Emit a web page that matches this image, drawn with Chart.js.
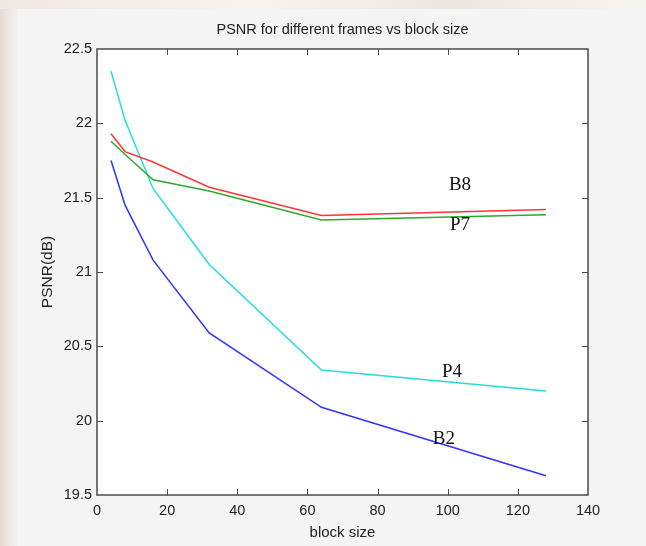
<!DOCTYPE html>
<html>
<head>
<meta charset="utf-8">
<script src="https://cdn.jsdelivr.net/npm/chart.js@4/dist/chart.umd.min.js"></script>
<style>
  html, body { margin: 0; padding: 0; }
  body {
    width: 646px; height: 546px; overflow: hidden; position: relative;
    background: linear-gradient(90deg, #e6dbd5 0px, #efe8e3 10px, #f3efeb 17px);
  }
  #panel { position: absolute; left: 17px; top: 9px; right: 0; bottom: 0; background: #f4f4f4; }
  #topstrip { position: absolute; left: 0; top: 0; width: 646px; height: 9px;
    background: linear-gradient(90deg, #efe7e2, #f6f3ef 40%, #ebe6e0 70%, #f7f5f1); }
  canvas { position: absolute; left: 0; top: 0; }
</style>
</head>
<body>
<div id="topstrip"></div>
<div id="panel"></div>
<canvas id="psnrChart" width="646" height="546"></canvas>
<script>
const blockSizes = [4, 8, 16, 32, 64, 128];

const psnrB8 = [21.93, 21.81, 21.74, 21.57, 21.38, 21.42];
const psnrP7 = [21.88, 21.79, 21.62, 21.545, 21.35, 21.385];
const psnrP4 = [22.35, 22.02, 21.56, 21.05, 20.34, 20.20];
const psnrB2 = [21.75, 21.45, 21.08, 20.59, 20.09, 19.63];

// curve names written next to the lines (data coordinates)
const curveNames = ['B8', 'P7', 'P4', 'B2'];
const nameX = [103.5, 103.5, 101.2, 98.9];
const nameY = [21.585, 21.313, 20.328, 19.877];

const sans = "'Liberation Sans', Arial, sans-serif";

const toPoints = values => values.map((v, i) => ({ x: blockSizes[i], y: v }));

const matlabAxes = {
    id: 'matlabAxes',
    beforeDraw(chart) {
        const { ctx, chartArea: a } = chart;
        ctx.save();
        ctx.fillStyle = '#ffffff';
        ctx.fillRect(a.left, a.top, a.right - a.left, a.bottom - a.top);
        ctx.restore();
    },
    afterDatasetsDraw(chart) {
        const { ctx, chartArea: a, scales } = chart;
        const tickLen = 6;
        ctx.save();
        ctx.strokeStyle = '#4a4a4a';
        ctx.lineWidth = 1;
        ctx.beginPath();
        scales.x.ticks.forEach(t => {
            const px = Math.round(scales.x.getPixelForValue(t.value)) + 0.5;
            if (px <= a.left + 1 || px >= a.right - 1) return;
            ctx.moveTo(px, a.bottom); ctx.lineTo(px, a.bottom - tickLen);
            ctx.moveTo(px, a.top); ctx.lineTo(px, a.top + tickLen);
        });
        scales.y.ticks.forEach(t => {
            const py = Math.round(scales.y.getPixelForValue(t.value)) + 0.5;
            if (py <= a.top + 1 || py >= a.bottom - 1) return;
            ctx.moveTo(a.left, py); ctx.lineTo(a.left + tickLen, py);
            ctx.moveTo(a.right, py); ctx.lineTo(a.right - tickLen, py);
        });
        ctx.stroke();
        ctx.lineWidth = 1.5;
        ctx.strokeRect(a.left, a.top, a.right - a.left, a.bottom - a.top);

        ctx.fillStyle = '#111111';
        ctx.font = "19px 'Liberation Serif', 'Times New Roman', serif";
        ctx.textAlign = 'center';
        ctx.textBaseline = 'middle';
        curveNames.forEach((name, i) => {
            ctx.fillText(name, scales.x.getPixelForValue(nameX[i]), scales.y.getPixelForValue(nameY[i]));
        });
        ctx.restore();
    }
};

const ctx = document.getElementById('psnrChart').getContext('2d');
const psnrChart = new Chart(ctx, {
    type: 'line',
    data: {
        datasets: [
            { label: 'B8', data: toPoints(psnrB8), borderColor: '#ff3535' },
            { label: 'P7', data: toPoints(psnrP7), borderColor: '#2ea82e' },
            { label: 'P4', data: toPoints(psnrP4), borderColor: '#22dede' },
            { label: 'B2', data: toPoints(psnrB2), borderColor: '#3333ff' }
        ]
    },
    options: {
        responsive: false,
        animation: false,
        devicePixelRatio: 1,
        layout: { padding: { left: 0, right: 58, top: 0, bottom: 0 } },
        elements: {
            point: { radius: 0 },
            line: { borderWidth: 1.5, tension: 0, fill: false }
        },
        scales: {
            x: {
                type: 'linear',
                min: 0,
                max: 140,
                grid: { display: false, drawTicks: false },
                border: { display: false },
                ticks: {
                    stepSize: 20,
                    padding: 7,
                    color: '#222222',
                    font: { family: sans, size: 14.5 }
                },
                title: {
                    display: true,
                    text: 'block size',
                    color: '#222222',
                    font: { family: sans, size: 15 },
                    padding: { top: 0, bottom: 4 }
                },
                afterFit(scale) { scale.height = 51; }
            },
            // top axis only carries the plot title, centred over the axes box
            xTop: {
                type: 'linear',
                position: 'top',
                min: 0,
                max: 140,
                grid: { display: false, drawTicks: false },
                border: { display: false },
                ticks: { display: false },
                title: {
                    display: true,
                    text: 'PSNR for different frames vs block size',
                    color: '#222222',
                    font: { family: sans, size: 14.5 },
                    padding: { top: 21, bottom: 0 }
                },
                afterFit(scale) { scale.height = 49; }
            },
            y: {
                min: 19.5,
                max: 22.5,
                grid: { display: false, drawTicks: false },
                border: { display: false },
                ticks: {
                    stepSize: 0.5,
                    padding: 5,
                    color: '#222222',
                    font: { family: sans, size: 14.5 },
                    callback: value => String(value)
                },
                title: {
                    display: true,
                    text: 'PSNR(dB)',
                    color: '#222222',
                    font: { family: sans, size: 15.5 },
                    padding: { top: 38, bottom: 0 }
                },
                afterFit(scale) { scale.width = 97; }
            }
        },
        plugins: {
            legend: { display: false },
            tooltip: { enabled: false },
            title: { display: false }
        }
    },
    plugins: [matlabAxes]
});
</script>
</body>
</html>
